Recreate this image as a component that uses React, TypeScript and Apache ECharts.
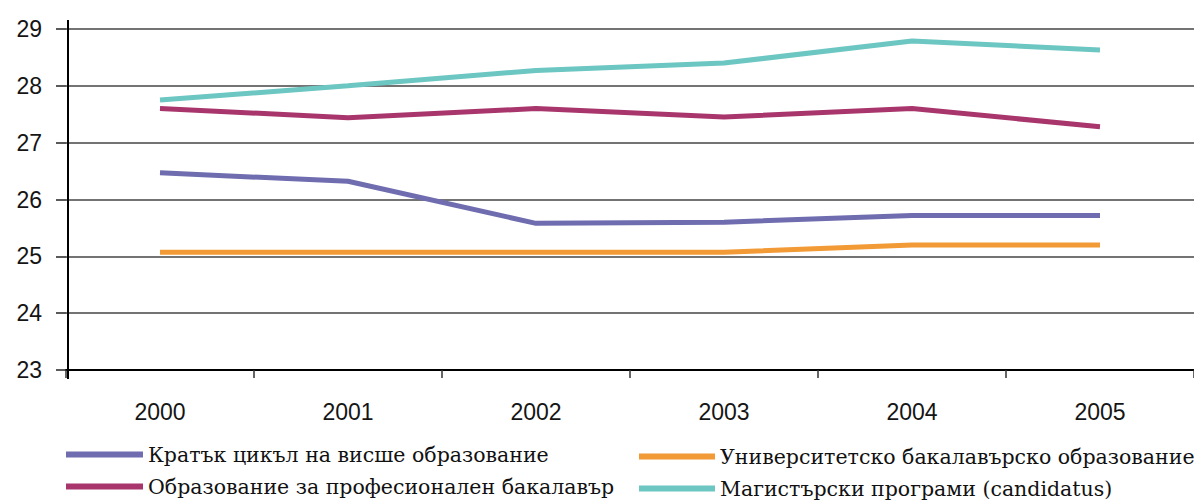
import React, { useEffect, useRef } from "react";
import * as echarts from "echarts";

const years = ["2000", "2001", "2002", "2003", "2004", "2005"];
const shortCycle = [26.47, 26.32, 25.58, 25.6, 25.72, 25.72];
const profBachelor = [27.6, 27.44, 27.6, 27.45, 27.6, 27.28];
const uniBachelor = [25.07, 25.07, 25.07, 25.07, 25.2, 25.2];
const masters = [27.75, 28.0, 28.27, 28.4, 28.79, 28.63];

const names = [
  "Кратък цикъл на висше образование",
  "Образование за професионален бакалавър",
  "Университетско бакалавърско образование",
  "Магистърски програми (candidatus)",
];
const colors = ["#6F6CAF", "#A8366C", "#F29A35", "#6CC6C2"];
const seriesData = [shortCycle, profBachelor, uniBachelor, masters];

export default function App() {
  const ref = useRef<HTMLDivElement>(null);
  useEffect(() => {
    document.body.style.margin = "0";
    const chart = echarts.init(ref.current!, undefined, { renderer: "svg" });
    const legendText = {
      fontFamily: "DejaVu Serif",
      fontSize: 20.5,
      lineHeight: 25,
      color: "#111",
    };
    const axisText = {
      fontFamily: "Liberation Sans",
      fontSize: 23,
      color: "#151515",
    };
    chart.setOption({
      animation: false,
      backgroundColor: "#ffffff",
      grid: { left: 66, right: 0, top: 29, bottom: 131, containLabel: false },
      xAxis: {
        type: "category",
        data: years,
        boundaryGap: true,
        axisLine: { show: true, lineStyle: { color: "#000", width: 2 } },
        axisTick: { show: true, length: 8, lineStyle: { color: "#333", width: 1.5 } },
        axisLabel: { margin: 30, ...axisText },
        splitLine: { show: false },
      },
      yAxis: {
        type: "value",
        min: 23,
        max: 29,
        interval: 1,
        axisLine: { show: false },
        axisTick: { show: true, length: 10, lineStyle: { color: "#222", width: 1.5 } },
        axisLabel: { margin: 24, ...axisText },
        splitLine: { show: true, lineStyle: { color: "#444", width: 1.5 } },
      },
      legend: [
        {
          data: [names[0], names[1]],
          orient: "vertical",
          left: 66,
          top: 442,
          height: 80,
          itemWidth: 77,
          itemHeight: 6,
          itemGap: 7,
          padding: 0,
          icon: "rect",
          textStyle: legendText,
        },
        {
          data: [names[2], names[3]],
          orient: "vertical",
          left: 639,
          top: 444,
          height: 80,
          itemWidth: 76,
          itemHeight: 6,
          itemGap: 7,
          padding: 0,
          icon: "rect",
          textStyle: legendText,
        },
      ],
      graphic: [
        {
          type: "line",
          shape: { x1: 68, y1: 20, x2: 68, y2: 379 },
          style: { stroke: "#000", lineWidth: 2 },
          z: 10,
        },
      ],
      series: seriesData.map((d, i) => ({
        name: names[i],
        type: "line",
        data: d,
        symbol: "none",
        color: colors[i],
        lineStyle: { width: 5, color: colors[i] },
        itemStyle: { color: colors[i] },
      })),
    });
    return () => chart.dispose();
  }, []);
  return <div ref={ref} style={{ width: 1194, height: 501 }} />;
}
